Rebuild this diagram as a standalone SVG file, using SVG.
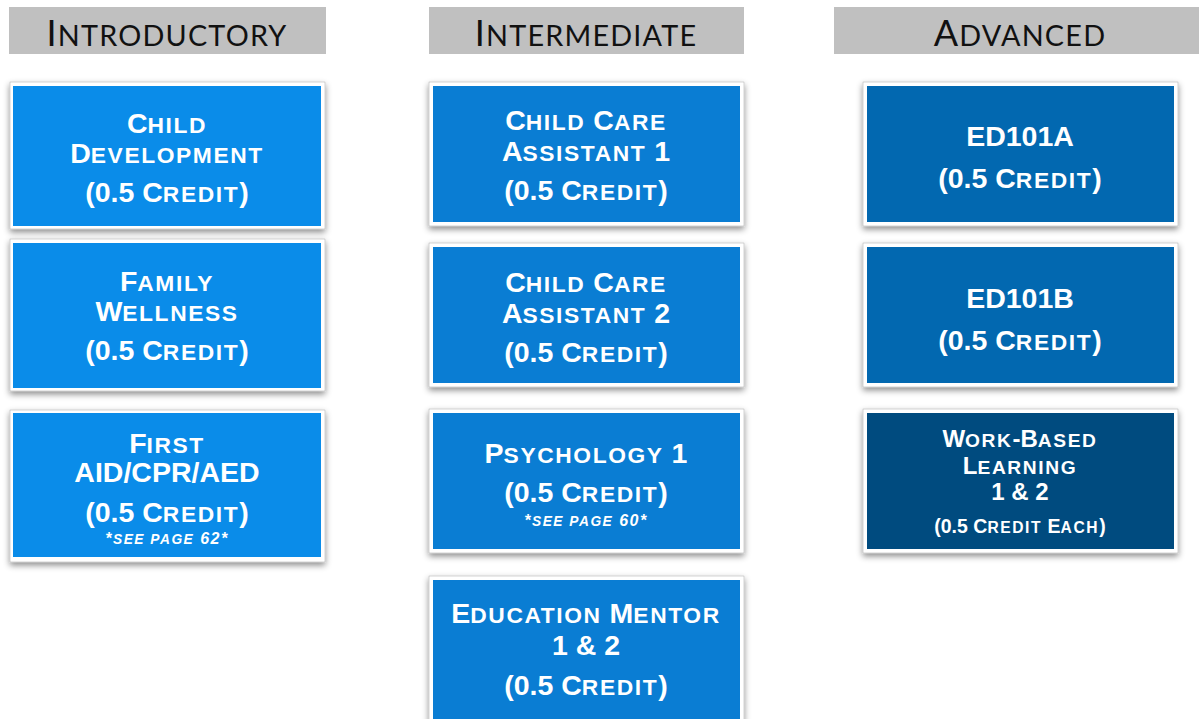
<svg xmlns="http://www.w3.org/2000/svg" width="1199" height="719" viewBox="0 0 1199 719">
<defs>
<filter id="sh" x="-10%" y="-10%" width="120%" height="130%">
<feDropShadow dx="0" dy="3" stdDeviation="3" flood-color="#000" flood-opacity="0.45"/>
</filter>
<style>
.hdr{fill:#c0c0c0}
.ht{font-family:Lato,"Open Sans",sans-serif;font-size:36px;fill:#111;text-anchor:middle;letter-spacing:1.2px}
.frame{fill:#fff;stroke:#b5b5b5;stroke-width:0.6;filter:url(#sh)}
.c1{fill:#0a8ce9}
.c2{fill:#0a7dd3}
.c3{fill:#0268b0}
.c4{fill:#004b7f}
.t{font-family:"Liberation Sans",Arial,sans-serif;font-weight:bold;font-size:28.5px;fill:#fff;text-anchor:middle}
.s{font-family:"Liberation Sans",Arial,sans-serif;font-weight:bold;font-style:italic;font-size:16px;fill:#fff;text-anchor:middle;letter-spacing:1.5px}
.sc{font-size:0.8em;letter-spacing:1.6px}
.s .sc{font-size:0.86em;letter-spacing:1.5px}
.ht .sc{letter-spacing:1.2px}
.w{font-size:24px}
.we{font-size:19.5px}
</style>
</defs>
<g id="headers">
<g id="h-intro"><rect class="hdr" x="9" y="7" width="317" height="47"/><text class="ht" x="167" y="46">I<tspan class="sc">NTRODUCTORY</tspan></text></g>
<g id="h-inter"><rect class="hdr" x="429" y="7" width="315" height="47"/><text class="ht" x="586" y="46">I<tspan class="sc">NTERMEDIATE</tspan></text></g>
<g id="h-adv"><rect class="hdr" x="834" y="7" width="365" height="47"/><text class="ht" x="1020" y="46">A<tspan class="sc">DVANCED</tspan></text></g>
</g>
<g id="connectors"></g>
<g id="n-child-dev">
<rect class="frame" x="10" y="82" width="315" height="147"/><rect class="c1" x="13" y="86" width="308" height="140"/>
<text class="t" x="167" y="133">C<tspan class="sc">HILD</tspan></text><text class="t" x="167" y="163">D<tspan class="sc">EVELOPMENT</tspan></text><text class="t" x="167" y="202">(0.5 C<tspan class="sc">REDIT</tspan>)</text>
</g>
<g id="n-family">
<rect class="frame" x="10" y="239" width="315" height="152"/><rect class="c1" x="13" y="243" width="308" height="145"/>
<text class="t" x="167" y="291">F<tspan class="sc">AMILY</tspan></text><text class="t" x="167" y="321">W<tspan class="sc">ELLNESS</tspan></text><text class="t" x="167" y="360">(0.5 C<tspan class="sc">REDIT</tspan>)</text>
</g>
<g id="n-firstaid">
<rect class="frame" x="10" y="410" width="315" height="152"/><rect class="c1" x="13" y="413" width="308" height="144"/>
<text class="t" x="167" y="453">F<tspan class="sc">IRST</tspan></text><text class="t" x="167" y="482">AID/CPR/AED</text><text class="t" x="167" y="522">(0.5 C<tspan class="sc">REDIT</tspan>)</text><text class="s" x="167" y="544">*<tspan class="sc">SEE PAGE</tspan> 62*</text>
</g>
<g id="n-cca1">
<rect class="frame" x="429" y="82" width="315" height="144"/><rect class="c2" x="433" y="86" width="307" height="136"/>
<text class="t" x="586" y="130">C<tspan class="sc">HILD</tspan> C<tspan class="sc">ARE</tspan></text><text class="t" x="586" y="161">A<tspan class="sc">SSISTANT</tspan> 1</text><text class="t" x="586" y="200">(0.5 C<tspan class="sc">REDIT</tspan>)</text>
</g>
<g id="n-cca2">
<rect class="frame" x="429" y="243" width="315" height="144"/><rect class="c2" x="433" y="247" width="307" height="136"/>
<text class="t" x="586" y="292">C<tspan class="sc">HILD</tspan> C<tspan class="sc">ARE</tspan></text><text class="t" x="586" y="323">A<tspan class="sc">SSISTANT</tspan> 2</text><text class="t" x="586" y="362">(0.5 C<tspan class="sc">REDIT</tspan>)</text>
</g>
<g id="n-psych">
<rect class="frame" x="429" y="409" width="315" height="144"/><rect class="c2" x="433" y="413" width="307" height="136"/>
<text class="t" x="586" y="463">P<tspan class="sc">SYCHOLOGY</tspan> 1</text><text class="t" x="586" y="502">(0.5 C<tspan class="sc">REDIT</tspan>)</text><text class="s" x="586" y="526">*<tspan class="sc">SEE PAGE</tspan> 60*</text>
</g>
<g id="n-edmentor">
<rect class="frame" x="429" y="576" width="315" height="160"/><rect class="c2" x="433" y="580" width="307" height="150"/>
<text class="t" x="586" y="623">E<tspan class="sc">DUCATION</tspan> M<tspan class="sc">ENTOR</tspan></text><text class="t" x="586" y="655">1 &amp; 2</text><text class="t" x="586" y="695">(0.5 C<tspan class="sc">REDIT</tspan>)</text>
</g>
<g id="n-ed101a">
<rect class="frame" x="863" y="82" width="315" height="144"/><rect class="c3" x="867" y="86" width="307" height="136"/>
<text class="t" x="1020" y="146">ED101A</text><text class="t" x="1020" y="188">(0.5 C<tspan class="sc">REDIT</tspan>)</text>
</g>
<g id="n-ed101b">
<rect class="frame" x="863" y="243" width="315" height="144"/><rect class="c3" x="867" y="247" width="307" height="136"/>
<text class="t" x="1020" y="308">ED101B</text><text class="t" x="1020" y="350">(0.5 C<tspan class="sc">REDIT</tspan>)</text>
</g>
<g id="n-wbl">
<rect class="frame" x="863" y="409" width="315" height="144"/><rect class="c4" x="867" y="413" width="307" height="136"/>
<text class="t w" x="1020" y="447">W<tspan class="sc">ORK</tspan>-B<tspan class="sc">ASED</tspan></text><text class="t w" x="1020" y="474">L<tspan class="sc">EARNING</tspan></text><text class="t w" x="1020" y="500">1 &amp; 2</text><text class="t we" x="1020" y="533">(0.5 C<tspan class="sc">REDIT</tspan> E<tspan class="sc">ACH</tspan>)</text>
</g>
</svg>
